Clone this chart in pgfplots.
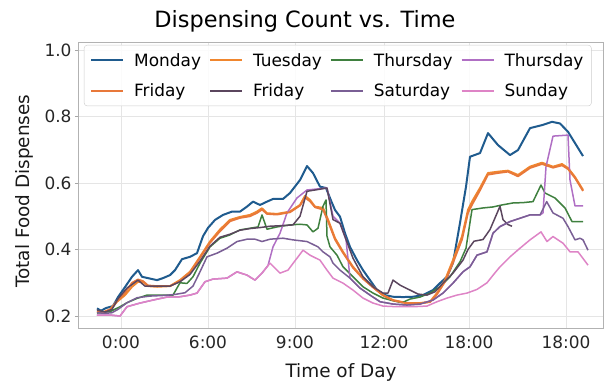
\documentclass[border=0pt]{standalone}
\usepackage{fontspec}
\setmainfont{DejaVu Sans}
\usepackage{pgfplots}
\pgfplotsset{compat=1.18}
\definecolor{cmon}{HTML}{1F5B8E}
\definecolor{ctue}{HTML}{F0862E}
\definecolor{cthu}{HTML}{3F803F}
\definecolor{cthv}{HTML}{B06FC4}
\definecolor{cfri}{HTML}{E8783A}
\definecolor{cfrd}{HTML}{5B465E}
\definecolor{csat}{HTML}{7A5F95}
\definecolor{csun}{HTML}{DE84C6}
\begin{document}
\begin{tikzpicture}
\begin{axis}[
  scale only axis, width=524bp, height=285bp,
  xmin=79, xmax=603, ymin=0.164, ymax=1.021,
  xtick={121,208,295,384,469,566},
  xticklabels={0:00,6:00,9:00,12:00,18:00,18:00},
  ytick={0.2,0.4,0.6,0.8,1.0},
  yticklabel style={/pgf/number format/.cd, fixed, fixed zerofill, precision=1},
  /pgf/number format/assume math mode=true,
  tick label style={font=\fontsize{17}{20}\selectfont, text=black!85},
  grid=major, major grid style={color=black!10, line width=0.8bp},
  axis line style={color=black!30, line width=1bp},
  tick style={color=black!35, line width=0.8bp},
  major tick length=4bp, tick align=outside,
  ytick pos=left, xtick pos=bottom,
  xtick style={draw=none},
  xlabel={Time of Day}, ylabel={Total Food Dispenses},
  label style={font=\fontsize{18.5}{22}\selectfont, text=black!90},
  xlabel style={at={(axis description cs:0.5,-0.175)}, anchor=base},
  ylabel style={at={(axis description cs:-0.105,0.48)}, anchor=center},
  title={Dispensing Count vs. Time},
  title style={font=\fontsize{22.5}{27}\selectfont, at={(axis description cs:0.431,1)}, anchor=base, yshift=10bp},
  no markers, every axis plot/.append style={line join=round},
  legend columns=4, legend cell align=left,
  legend image code/.code={\draw[#1, line width=2bp, line cap=butt] (0bp,0bp) -- (32bp,0bp);},
  legend style={at={(axis description cs:0.0095,0.993)}, anchor=north west,
    font=\fontsize{17}{20}\selectfont, draw=black!20, fill=white, fill opacity=0.85, text opacity=1,
    rounded corners=3bp, inner xsep=6bp, inner ysep=6bp, row sep=12bp,
    /tikz/every odd column/.append style={column sep=8bp},
    /tikz/every even column/.append style={column sep=6bp}},
]
\addplot[cmon, line width=2bp] coordinates {(97,0.223)(101,0.216)(106,0.224)(113,0.23)(118,0.257)(125,0.287)(132,0.318)(138,0.338)(142,0.318)(148,0.314)(157,0.308)(163,0.314)(170,0.323)(175,0.338)(182,0.371)(190,0.378)(197,0.389)(203,0.44)(208,0.465)(215,0.489)(223,0.504)(232,0.514)(240,0.514)(247,0.529)(253,0.544)(260,0.534)(267,0.544)(273,0.552)(283,0.552)(290,0.57)(300,0.609)(307,0.651)(313,0.63)(320,0.589)(326,0.585)(332,0.54)(335,0.519)(340,0.499)(345,0.449)(350,0.408)(357,0.368)(363,0.338)(370,0.308)(377,0.278)(385,0.263)(393,0.258)(403,0.257)(413,0.258)(423,0.263)(433,0.278)(440,0.299)(447,0.318)(453,0.36)(460,0.48)(466,0.589)(470,0.679)(480,0.69)(488,0.75)(498,0.714)(510,0.684)(518,0.699)(530,0.765)(542,0.774)(552,0.784)(560,0.779)(568,0.754)(575,0.72)(583,0.681)};
\addlegendentry{Monday}
\addplot[ctue, line width=2bp] coordinates {(97,0.213)(103,0.21)(110,0.218)(117,0.243)(125,0.263)(132,0.288)(138,0.303)(143,0.303)(148,0.29)(157,0.288)(170,0.29)(180,0.308)(190,0.333)(200,0.378)(210,0.424)(220,0.46)(230,0.489)(240,0.498)(250,0.504)(257,0.514)(262,0.524)(267,0.509)(277,0.507)(290,0.514)(300,0.534)(305,0.561)(310,0.549)(315,0.529)(323,0.525)(328,0.49)(335,0.434)(343,0.393)(353,0.348)(363,0.314)(373,0.288)(383,0.263)(393,0.248)(407,0.239)(420,0.239)(430,0.243)(437,0.269)(445,0.308)(453,0.368)(462,0.439)(468,0.519)(473,0.549)(480,0.585)(488,0.63)(498,0.634)(508,0.637)(518,0.624)(530,0.649)(542,0.661)(553,0.649)(562,0.657)(568,0.645)(575,0.618)(583,0.579)};
\addlegendentry{Tuesday}
\addplot[cthu, line width=1.5bp] coordinates {(97,0.209)(110,0.213)(120,0.228)(127,0.24)(137,0.253)(147,0.263)(160,0.263)(173,0.263)(180,0.3)(187,0.298)(193,0.318)(200,0.359)(210,0.408)(220,0.434)(230,0.444)(240,0.459)(250,0.464)(258,0.468)(262,0.504)(267,0.461)(277,0.468)(290,0.474)(300,0.476)(307,0.474)(313,0.453)(318,0.464)(323,0.53)(326,0.549)(327,0.44)(330,0.408)(337,0.383)(343,0.348)(353,0.318)(363,0.288)(373,0.269)(383,0.254)(393,0.246)(402,0.24)(410,0.251)(420,0.257)(430,0.269)(440,0.288)(450,0.318)(460,0.363)(466,0.404)(472,0.52)(483,0.525)(493,0.528)(502,0.534)(513,0.54)(523,0.541)(533,0.544)(541,0.594)(545,0.57)(555,0.555)(565,0.525)(572,0.484)(583,0.484)};
\addlegendentry{Thursday}
\addplot[cthv, line width=1.5bp] coordinates {(97,0.203)(110,0.203)(120,0.2)(127,0.228)(140,0.239)(153,0.248)(167,0.257)(180,0.258)(190,0.263)(197,0.269)(205,0.303)(213,0.311)(227,0.314)(237,0.333)(247,0.323)(255,0.308)(262,0.329)(268,0.352)(273,0.408)(280,0.449)(287,0.51)(297,0.555)(307,0.579)(317,0.582)(327,0.585)(333,0.50)(340,0.479)(346,0.43)(350,0.314)(360,0.284)(370,0.263)(380,0.243)(393,0.236)(407,0.233)(420,0.236)(433,0.248)(443,0.269)(453,0.299)(463,0.333)(470,0.348)(477,0.383)(487,0.393)(493,0.449)(500,0.469)(510,0.484)(520,0.494)(530,0.504)(540,0.504)(543,0.51)(546,0.649)(553,0.741)(568,0.744)(570,0.609)(575,0.531)(583,0.531)};
\addlegendentry{Thursday}
\addplot[cfri, line width=1.8bp] coordinates {(97,0.215)(103,0.212)(110,0.22)(117,0.245)(125,0.27)(132,0.30)(138,0.31)(143,0.305)(148,0.292)(157,0.29)(170,0.29)(180,0.305)(190,0.33)(200,0.375)(210,0.42)(220,0.455)(230,0.485)(240,0.495)(250,0.5)(257,0.51)(262,0.52)(267,0.507)(277,0.505)(290,0.512)(300,0.532)(305,0.556)(310,0.545)(315,0.527)(323,0.52)(328,0.485)(335,0.43)(343,0.39)(353,0.345)(363,0.312)(373,0.286)(383,0.262)(393,0.247)(407,0.238)(420,0.238)(430,0.242)(437,0.265)(445,0.303)(453,0.36)(462,0.43)(468,0.51)(473,0.54)(480,0.578)(488,0.625)(498,0.63)(508,0.634)(518,0.62)(530,0.645)(542,0.657)(553,0.646)(562,0.653)(568,0.642)(575,0.615)(583,0.576)};
\addlegendentry{Friday}
\addplot[cfrd, line width=1.5bp] coordinates {(97,0.218)(105,0.212)(112,0.22)(118,0.252)(127,0.284)(138,0.308)(145,0.29)(157,0.29)(170,0.29)(180,0.303)(190,0.325)(200,0.365)(210,0.41)(220,0.437)(230,0.446)(240,0.458)(250,0.463)(260,0.466)(270,0.47)(283,0.472)(293,0.474)(300,0.5)(307,0.575)(317,0.58)(327,0.585)(333,0.49)(340,0.479)(346,0.43)(353,0.374)(363,0.318)(373,0.288)(383,0.269)(388,0.269)(393,0.308)(400,0.293)(410,0.278)(418,0.266)(427,0.263)(435,0.273)(443,0.299)(453,0.329)(463,0.368)(468,0.40)(474,0.425)(483,0.43)(490,0.46)(500,0.53)(503,0.49)(508,0.475)(512,0.47)};
\addlegendentry{Friday}
\addplot[csat, line width=1.5bp] coordinates {(97,0.21)(105,0.208)(112,0.21)(118,0.22)(127,0.24)(137,0.255)(150,0.26)(165,0.262)(175,0.265)(185,0.27)(193,0.29)(200,0.333)(207,0.378)(217,0.389)(227,0.404)(237,0.424)(247,0.431)(255,0.431)(262,0.424)(270,0.431)(283,0.434)(293,0.429)(307,0.424)(318,0.408)(323,0.393)(330,0.378)(333,0.359)(340,0.338)(350,0.314)(360,0.284)(370,0.263)(380,0.243)(393,0.236)(407,0.233)(420,0.236)(433,0.248)(443,0.269)(453,0.299)(463,0.333)(470,0.348)(477,0.383)(487,0.393)(493,0.449)(500,0.469)(510,0.484)(520,0.494)(530,0.504)(540,0.504)(546.7,0.544)(553,0.51)(563,0.494)(568,0.469)(575,0.429)(580,0.434)(583,0.429)(588,0.398)};
\addlegendentry{Saturday}
\addplot[csun, line width=1.5bp] coordinates {(97,0.203)(110,0.203)(120,0.2)(127,0.228)(140,0.239)(153,0.248)(167,0.257)(180,0.258)(190,0.263)(197,0.269)(205,0.303)(213,0.311)(227,0.314)(237,0.333)(247,0.323)(255,0.308)(262,0.329)(270,0.359)(280,0.329)(288,0.338)(297,0.374)(303,0.398)(310,0.383)(320,0.368)(327,0.338)(333,0.314)(343,0.299)(353,0.278)(363,0.254)(373,0.239)(383,0.23)(397,0.228)(413,0.228)(427,0.23)(437,0.243)(447,0.254)(457,0.263)(467,0.269)(477,0.28)(487,0.30)(495,0.33)(500,0.348)(510,0.378)(520,0.404)(530,0.429)(541,0.453)(547,0.424)(553,0.439)(563,0.419)(570,0.393)(578,0.393)(588,0.353)};
\addlegendentry{Sunday}
\end{axis}
\pgfresetboundingbox
\path ([xshift=-79bp,yshift=-55bp]current axis.south west) rectangle ([xshift=2bp,yshift=43bp]current axis.north east);
\end{tikzpicture}
\end{document}
